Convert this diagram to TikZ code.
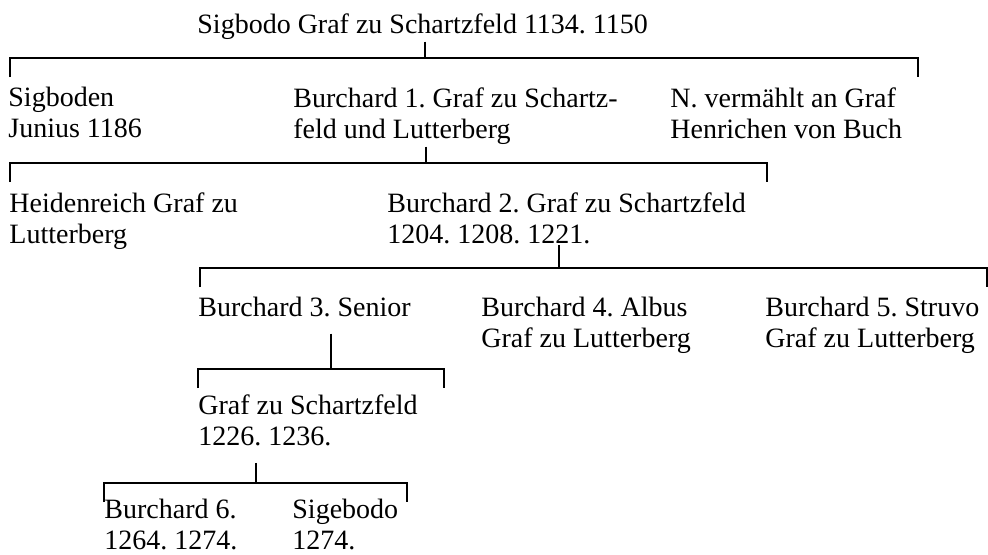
\documentclass[tikz,border=0pt]{standalone}
\usepackage{fontspec}
\setmainfont{Liberation Serif}
\frenchspacing

\begin{document}
\begin{tikzpicture}[x=0.5pt, y=-0.5pt,
	person/.style={anchor=north west, inner sep=0pt, align=left, font=\fontsize{14}{15.5}\selectfont},
	line/.style={line width=1pt}]
	 \useasboundingbox (0, 0) rectangle (988, 554);
	 
	 \node[person] (sigbodo) at (197, 13) {Sigbodo Graf zu Schartzfeld 1134. 1150};
	 
	 \node[person] (sigboden) at (8, 87) {Sigboden\\Junius 1186};
	 \node[person] (burchardA) at (293, 87) {Burchard 1. Graf zu Schartz-\\feld und Lutterberg};
	 \node[person] (gemahlin) at (670, 87) {N. vermählt an Graf\\Henrichen von Buch};
	 
	 \node[person] (heidenreich) at (9, 192) {Heidenreich Graf zu\\Lutterberg};
	 \node[person] (burchardB) at (387, 192) {Burchard 2. Graf zu Schartzfeld\\1204. 1208. 1221.};
	 
	 \node[person] (burchardC) at (198, 297) {Burchard 3. Senior};
	 \node[person] (burchardD) at (481, 297) {Burchard 4. Albus\\Graf zu Lutterberg};
	 \node[person] (burchardE) at (765, 297) {Burchard 5. Struvo\\Graf zu Lutterberg};
	 
	 \node[person] (schartzfeld) at (198, 394) {Graf zu Schartzfeld\\1226. 1236.};
	 
	 \node[person] (burchardF) at (104, 499) {Burchard 6.\\1264. 1274.};
	 \node[person] (sigebodo) at (292, 499) {Sigebodo\\1274.};
	 
	 % stem, bar and end ticks of each family
	 \foreach \p/\sx/\lx/\rx/\by/\gap in {sigbodo/425/10/918/58/1pt, burchardA/426/10/767/163/1pt, burchardB/559/200/987/268/0.5pt, burchardC/331/198/444/369/8pt, schartzfeld/256/104/407/483/8.5pt}
	 {
	 \coordinate (\p-bar) at (\sx, \by);
	 \coordinate (\p-left) at (\lx, \by + 19);
	 \coordinate (\p-right) at (\rx, \by + 19);
	 \draw[line, shorten <= \gap] (\p.south -| \p-bar) -- (\p-bar);
	 \draw[line] (\p-left) |- (\p-bar) -| (\p-right);
	 }
\end{tikzpicture}
\end{document}
